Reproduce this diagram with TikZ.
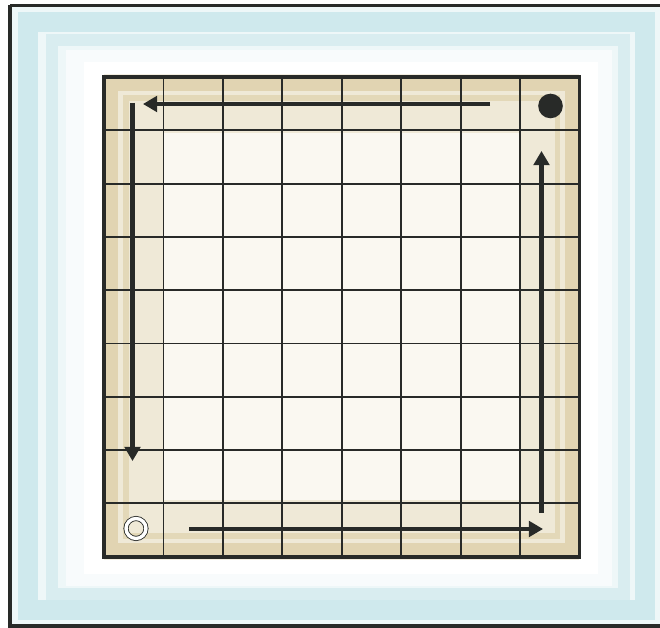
\documentclass[tikz,border=0pt]{standalone}
\usepackage{tikz}
\usetikzlibrary{arrows.meta, positioning}
\definecolor{tinta}{RGB}{40,42,40}
\definecolor{azulLapis}{RGB}{170,216,224}
\definecolor{azulClaro}{RGB}{238,247,248}
\definecolor{areia}{RGB}{214,196,148}
\definecolor{creme}{RGB}{250,248,241}

\begin{document}
\begin{tikzpicture}[
    x=0.025cm, y=-0.025cm,
    moldura/.style={draw=tinta, line width=2.2pt},
    borda/.style={draw=tinta, line width=2.8pt},
    grade/.style={draw=tinta, line width=1.3pt},
    lapisAzul/.style={draw=azulLapis, line cap=butt},
    lapisAreia/.style={draw=areia, line cap=butt},
    seta/.style={draw=tinta, line width=3.1pt, -{Triangle[length=10pt, width=11pt]}},
    pedraPreta/.style={circle, fill=tinta, minimum size=17.5pt, inner sep=0pt},
    pedraBranca/.style={circle, draw=tinta, line width=0.6pt, double=white, double distance=2.4pt, minimum size=14.2pt, inner sep=0pt}
]
    \useasboundingbox (0,0) rectangle (660,628);
    \clip (0,0) rectangle (660,628);

    % fundo azul
    \fill[white] (0,0) rectangle (660,628);
    \fill[azulClaro] (10,5.5) rectangle (663,626);
    \draw[lapisAzul, line width=14pt, opacity=0.45] (28,22) rectangle (645,610);
    \draw[lapisAzul, line width=8pt, opacity=0.3] (52,40) rectangle (624,594);
    \fill[white, opacity=0.6] (66,50) rectangle (612,586);
    \fill[white] (84,62) rectangle (598,574);

    % tabuleiro
    \fill[creme] (104,77) rectangle (579.5,556.7);
    \draw[lapisAreia, line width=42pt, opacity=0.28] (133.7,103.6) rectangle (549.8,530);
    \draw[lapisAreia, line width=10pt, opacity=0.55] (111,84) rectangle (572.5,549.7);
    \draw[lapisAreia, line width=4pt, opacity=0.45] (126,98) rectangle (557.5,535.7);

    \foreach \i in {1,...,7}
        \draw[grade] ({104+\i*59.44},77) -- ({104+\i*59.44},556.7);
    \foreach \j in {1,...,8}
        \draw[grade] (104,{77+\j*53.3}) -- (579.5,{77+\j*53.3});
    \draw[borda] (104,77) rectangle (579.5,556.7);

    \draw[moldura] (10,5.5) -- (663,5.5);
    \draw[moldura] (10,5.5) -- (10,626) -- (663,626);

    % pedras
    \node[pedraPreta] (preta) at (550.5,106) {};
    \node[pedraBranca] (branca) at (136,528.5) {};

    % percurso
    \coordinate (topoIni) at (490,104);
    \coordinate (topoFim) at (143,104);
    \coordinate (esqIni) at (132.5,103);
    \coordinate (esqFim) at (132.5,461);
    \coordinate (baixoIni) at (189,529);
    \coordinate (baixoFim) at (543,529);
    \coordinate (dirIni) at (541.5,513);
    \coordinate (dirFim) at (541.5,151);

    \draw[seta] (topoIni) -- (topoFim);
    \draw[seta] (esqIni) -- (esqFim);
    \draw[seta] (baixoIni) -- (baixoFim);
    \draw[seta] (dirIni) -- (dirFim);
\end{tikzpicture}
\end{document}
